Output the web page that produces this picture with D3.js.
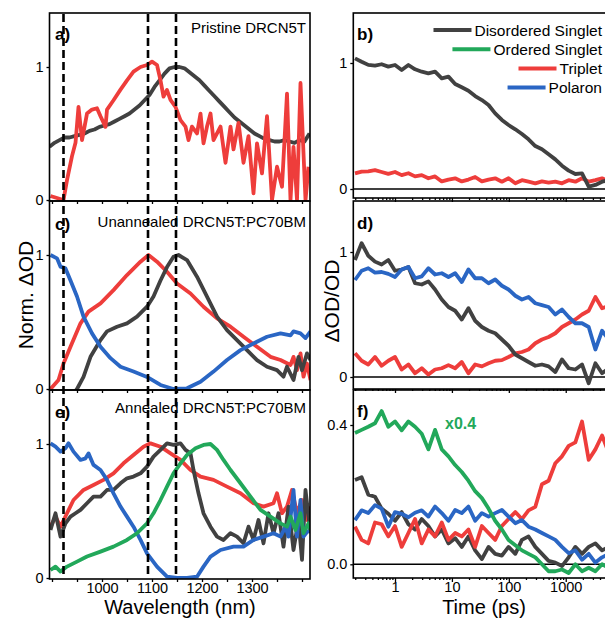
<!DOCTYPE html>
<meta charset="utf-8">
<style>
body { margin: 0; background: #fff; }
svg { font-family: "Liberation Sans", Arial, sans-serif; }
.frame { fill: none; stroke: #000; stroke-width: 1.6; }
.trace { fill: none; stroke-width: 3.8; stroke-linejoin: round; }
.axis path { display: none; }
.axis line { stroke: #000; stroke-width: 1.3; }
.axis text { font-size: 14.5px; fill: #000; font-family: "Liberation Sans", Arial, sans-serif; }
</style>
<body>
<script src="https://d3js.org/d3.v7.min.js"></script>
<script>

// ---- spectra (left column), wavelength in nm, normalised dOD ----
var aGrayWl = [895,905,915,925,935,945,955,965,975,985,995,1005,1015,1025,1035,1045,1055,1065,1075,1085,1095,1105,1115,1125,1135,1145,1155,1165,1175,1185,1195,1205,1215,1225,1235,1245,1255,1265,1275,1285,1295,1305,1315,1325,1335,1345,1355,1365,1375,1385,1395,1405,1415];
var aGrayVal = [0.40,0.43,0.45,0.47,0.47,0.48,0.49,0.50,0.52,0.53,0.55,0.56,0.57,0.59,0.61,0.63,0.65,0.68,0.71,0.75,0.79,0.85,0.90,0.95,0.99,1.00,1.00,0.99,0.96,0.93,0.90,0.86,0.82,0.78,0.74,0.70,0.66,0.62,0.59,0.56,0.53,0.50,0.48,0.46,0.45,0.44,0.44,0.45,0.44,0.43,0.45,0.44,0.50];
var aRedWl = [897,923,930,940,947,953,960,970,980,990,997,1007,1010,1023,1037,1050,1063,1077,1090,1100,1110,1117,1123,1130,1137,1147,1157,1167,1173,1180,1190,1197,1203,1210,1217,1223,1237,1247,1257,1263,1273,1283,1293,1303,1310,1320,1330,1340,1350,1360,1370,1377,1383,1390,1397,1407,1413];
var aRedVal = [0.03,0.0,0.15,0.33,0.43,0.70,0.45,0.65,0.68,0.69,0.63,0.55,0.68,0.75,0.83,0.90,0.965,1.0,1.015,1.04,1.015,0.90,0.777,0.827,0.752,0.70,0.60,0.552,0.45,0.552,0.50,0.65,0.426,0.552,0.65,0.45,0.552,0.28,0.552,0.38,0.58,0.28,0.48,0.05,0.426,0.20,0.63,0.0,0.25,0.10,0.80,0.0,0.40,0.0,0.88,0.0,0.25];

var cBlueWl = [897,910,917,927,937,950,963,980,997,1017,1037,1063,1090,1117,1143,1170,1197,1223,1250,1277,1303,1330,1357,1377,1383,1397,1407,1417];
var cBlueVal = [1.0,0.975,0.913,0.90,0.81,0.69,0.54,0.415,0.315,0.23,0.166,0.13,0.09,0.03,0.0,0.005,0.054,0.13,0.216,0.29,0.34,0.39,0.415,0.40,0.43,0.415,0.38,0.43];
var cRedWl = [897,913,923,937,957,973,997,1023,1050,1077,1093,1110,1130,1150,1177,1203,1230,1257,1283,1310,1337,1357,1377,1383,1390,1397,1403,1410,1417];
var cRedVal = [0,0.067,0.19,0.316,0.49,0.577,0.639,0.738,0.85,0.95,1.0,0.95,0.875,0.788,0.713,0.614,0.527,0.465,0.39,0.315,0.24,0.216,0.179,0.24,0.141,0.266,0.092,0.19,0.067];
var cGrayWl = [940,950,963,977,997,1010,1030,1050,1070,1090,1103,1117,1130,1143,1153,1170,1190,1210,1230,1250,1270,1290,1310,1330,1350,1363,1370,1383,1393,1400,1410,1417];
var cGrayVal = [-0.05,0,0.09,0.24,0.365,0.43,0.465,0.49,0.54,0.614,0.69,0.81,0.91,0.987,1.0,0.962,0.838,0.69,0.54,0.44,0.365,0.29,0.216,0.166,0.141,0.092,0.166,0.067,0.24,0.14,0.266,0.216];

var eBlueWl = [897,907,917,927,933,943,957,967,973,983,997,1010,1023,1037,1050,1063,1077,1090,1110,1130,1150,1170,1190,1203,1217,1237,1263,1283,1303,1323,1343,1357,1367,1373,1383,1390,1397,1403,1413];
var eBlueVal = [1.005,0.98,0.943,0.968,1.005,0.943,0.881,0.893,0.93,0.844,0.806,0.732,0.632,0.533,0.458,0.383,0.284,0.184,0.085,0.01,0,0,0.01,0.085,0.16,0.209,0.234,0.234,0.284,0.309,0.334,0.309,0.383,0.309,0.657,0.309,0.582,0.309,0.358];
var eRedWl = [897,907,917,930,943,963,983,1003,1023,1043,1063,1083,1097,1117,1137,1157,1177,1197,1223,1250,1277,1303,1323,1343,1350,1360,1370,1380,1390,1400,1410,1417];
var eRedVal = [0.383,0.458,0.383,0.483,0.582,0.657,0.694,0.732,0.781,0.856,0.918,0.98,1.005,0.98,0.93,0.881,0.806,0.757,0.732,0.682,0.632,0.558,0.533,0.558,0.632,0.483,0.533,0.657,0.483,0.582,0.433,0.533];
var eGrayWl = [897,907,917,927,937,947,957,970,983,997,1010,1023,1037,1050,1063,1077,1090,1103,1117,1130,1143,1157,1167,1177,1183,1193,1203,1217,1230,1243,1257,1270,1283,1293,1303,1313,1323,1333,1343,1353,1363,1373,1383,1393,1400,1407,1417];
var eGrayVal = [0.359,0.483,0.309,0.408,0.458,0.483,0.508,0.558,0.607,0.607,0.657,0.657,0.707,0.744,0.757,0.781,0.831,0.906,0.956,1.005,0.993,1.005,0.956,0.93,0.806,0.632,0.483,0.383,0.309,0.284,0.334,0.309,0.259,0.383,0.284,0.433,0.259,0.483,0.334,0.483,0.234,0.533,0.209,0.433,0.135,0.657,0.334];
var eGreenWl = [897,907,917,930,950,970,997,1023,1050,1070,1090,1103,1117,1130,1143,1157,1170,1187,1203,1217,1230,1243,1257,1277,1297,1317,1337,1357,1370,1377,1387,1397,1403,1413,1417];
var eGreenVal = [0.06,0.085,0.048,0.085,0.122,0.16,0.197,0.234,0.284,0.334,0.408,0.483,0.582,0.682,0.781,0.856,0.918,0.968,0.993,1.0,0.956,0.881,0.806,0.707,0.607,0.508,0.458,0.408,0.383,0.458,0.358,0.483,0.334,0.408,0.358];

var dashWl = [923, 1092, 1148];
var xLTickLabels = [1000, 1100, 1200, 1300];

// ---- kinetics (right column), time in ps ----
var times = [0.198,0.259,0.339,0.445,0.582,0.763,1.0,1.31,1.72,2.25,2.95,3.86,5.06,6.63,8.69,11.4,14.9,19.5,25.6,33.6,44.0,57.6,75.5,98.9,130,170,222,292,382,500,656,859,1126,1476,1933,2533,3319,4350,5700];

var bGray = [1.037,1.01,0.985,0.979,0.99,0.971,0.984,0.944,0.984,0.95,0.931,0.918,0.931,0.878,0.892,0.833,0.807,0.78,0.738,0.706,0.667,0.60,0.548,0.508,0.474,0.436,0.394,0.341,0.315,0.275,0.235,0.185,0.146,0.119,0.124,0.019,0.032,0.058,0.071];
var bRed = [0.124,0.138,0.14,0.15,0.135,0.12,0.135,0.11,0.125,0.10,0.11,0.085,0.10,0.06,0.075,0.085,0.06,0.075,0.095,0.06,0.075,0.085,0.058,0.085,0.045,0.07,0.058,0.045,0.06,0.05,0.058,0.045,0.07,0.058,0.085,0.058,0.07,0.085,0.06];

var dGray = [0.936,1.07,0.97,0.923,0.90,0.936,0.85,0.86,0.88,0.75,0.74,0.765,0.70,0.62,0.56,0.53,0.46,0.55,0.45,0.40,0.37,0.35,0.30,0.25,0.18,0.15,0.12,0.09,0.10,0.085,0.04,0.14,0.07,0.06,0.10,-0.05,0.11,0.03,0.07];
var dBlue = [0.776,0.85,0.87,0.835,0.84,0.825,0.80,0.86,0.88,0.79,0.805,0.87,0.82,0.83,0.80,0.83,0.76,0.86,0.79,0.79,0.75,0.78,0.73,0.70,0.65,0.62,0.64,0.59,0.575,0.56,0.50,0.54,0.48,0.43,0.43,0.40,0.22,0.37,0.30];
var dRed = [0.19,0.13,0.10,0.16,0.09,0.13,0.16,0.06,0.10,0.03,0.07,0.02,0.06,0.07,0.095,0.07,0.12,0.03,0.10,0.085,0.11,0.13,0.135,0.16,0.19,0.20,0.22,0.27,0.30,0.32,0.35,0.40,0.43,0.46,0.50,0.53,0.64,0.55,0.57];

var fGray = [0.242,0.25,0.20,0.194,0.16,0.145,0.125,0.15,0.115,0.10,0.13,0.11,0.08,0.10,0.06,0.075,0.05,0.08,0.04,0.015,0.05,0.03,0.025,0.05,0.03,0.07,0.08,0.05,0.03,0.01,0.005,-0.005,0.02,0.05,0.03,0.05,0.06,0.04,0.05];
var fRed = [0.108,0.07,0.06,0.12,0.115,0.08,0.11,0.05,0.09,0.13,0.06,0.10,0.08,0.12,0.07,0.09,0.08,0.10,0.05,0.11,0.09,0.07,0.11,0.13,0.15,0.13,0.155,0.165,0.23,0.24,0.29,0.31,0.34,0.35,0.41,0.30,0.33,0.37,0.32];
var fBlue = [0.127,0.155,0.147,0.17,0.16,0.108,0.15,0.145,0.135,0.148,0.155,0.137,0.166,0.147,0.125,0.156,0.147,0.166,0.125,0.147,0.137,0.147,0.156,0.137,0.118,0.127,0.108,0.10,0.09,0.08,0.07,0.05,0.032,0.04,0.013,0.03,0.005,0.02,0.03];
var fGreen = [0.377,0.386,0.395,0.405,0.44,0.395,0.41,0.385,0.41,0.395,0.375,0.33,0.386,0.33,0.31,0.285,0.265,0.24,0.21,0.19,0.16,0.125,0.10,0.07,0.055,0.04,0.03,0.02,0.0,-0.02,-0.02,-0.015,-0.025,0.0,-0.02,-0.01,-0.02,0.0,-0.01];

var xRTickLabels = [1, 10, 100, 1000];

var legendNames = ["Disordered Singlet", "Ordered Singlet", "Triplet", "Polaron"];

// colours
var cGrayC = "#414141", cRedC = "#ee3d3b", cBlueC = "#2a66c4", cGreenC = "#22a85a";
var legendColors = [cGrayC, cGreenC, cRedC, cBlueC];

var svg = d3.select("body").append("svg")
    .attr("width", 605)
    .attr("height", 618);

// scales
var xL = d3.scaleLinear().domain([895, 1416]).range([49.5, 310]);
var xR = d3.scaleLog().domain([0.185, 11000]).range([353.3, 625]);

var leftPanels = [
  {top: 13, bottom: 201, y: d3.scaleLinear().domain([0, 1]).range([200, 67]), label: "a)", labelY: 40,
   note: "Pristine DRCN5T", noteY: 33,
   series: [[aGrayWl, aGrayVal, cGrayC], [aRedWl, aRedVal, cRedC]]},
  {top: 201, bottom: 390, y: d3.scaleLinear().domain([0, 1]).range([389, 255]), label: "c)", labelY: 230,
   note: "Unannealed DRCN5T:PC70BM", noteY: 227,
   series: [[cRedWl, cRedVal, cRedC], [cGrayWl, cGrayVal, cGrayC], [cBlueWl, cBlueVal, cBlueC]]},
  {top: 390, bottom: 579, y: d3.scaleLinear().domain([0, 1]).range([578, 444]), label: "e)", labelY: 418,
   note: "Annealed DRCN5T:PC70BM", noteY: 413,
   series: [[eRedWl, eRedVal, cRedC], [eGrayWl, eGrayVal, cGrayC], [eBlueWl, eBlueVal, cBlueC], [eGreenWl, eGreenVal, cGreenC]]}
];

var rightPanels = [
  {top: 13, bottom: 198, y: d3.scaleLinear().domain([0, 1]).range([189, 63]), ticks: [0, 1], fmt: d3.format("d"),
   label: "b)", labelY: 40, series: [[bRed, cRedC], [bGray, cGrayC]]},
  {top: 201, bottom: 389, y: d3.scaleLinear().domain([0, 1]).range([377, 252]), ticks: [0, 1], fmt: d3.format("d"),
   label: "d)", labelY: 229, series: [[dRed, cRedC], [dGray, cGrayC], [dBlue, cBlueC]]},
  {top: 390, bottom: 578, y: d3.scaleLinear().domain([0, 0.4]).range([564.3, 425]), ticks: [0, 0.4], fmt: d3.format(".1f"),
   label: "f)", labelY: 417, series: [[fGray, cGrayC], [fRed, cRedC], [fBlue, cBlueC], [fGreen, cGreenC]]}
];

// left column
leftPanels.forEach(function(p, i) {
  var id = "clipL" + i;
  svg.append("clipPath").attr("id", id)
    .append("rect").attr("x", 49.5).attr("y", p.top).attr("width", 310 - 49.5).attr("height", p.bottom - p.top);

  var g = svg.append("g").attr("clip-path", "url(#" + id + ")");
  p.series.forEach(function(s) {
    var line = d3.line().x(function(d) { return xL(d[0]); }).y(function(d) { return p.y(d[1]); });
    g.append("path").attr("class", "trace").attr("stroke", s[2]).attr("d", line(d3.zip(s[0], s[1])));
  });

  svg.append("g").attr("class", "axis")
    .attr("transform", "translate(49.5,0)")
    .call(d3.axisLeft(p.y).tickValues([0, 1]).tickSize(3).tickPadding(3).tickFormat(d3.format("d")));

  var last = (i == leftPanels.length - 1);
  svg.append("g").attr("class", "axis")
    .attr("transform", "translate(0," + p.bottom + ")")
    .call(d3.axisBottom(xL).tickValues(d3.range(900, 1401, 50)).tickSize(3).tickPadding(1)
      .tickFormat(function(d) { return (last && xLTickLabels.indexOf(d) >= 0) ? d : ""; }));

  svg.append("rect").attr("class", "frame")
    .attr("x", 49.5).attr("y", p.top).attr("width", 310 - 49.5).attr("height", p.bottom - p.top);

  svg.append("text").attr("x", 55).attr("y", p.labelY)
    .style("font-size", "17px").style("font-weight", "bold").text(p.label);
  svg.append("text").attr("x", 306).attr("y", p.noteY).attr("text-anchor", "end")
    .style("font-size", "15px").text(p.note);
});

// dashed markers through the spectra
svg.selectAll(".dash").data(dashWl).enter().append("line")
  .attr("x1", function(d) { return xL(d); }).attr("x2", function(d) { return xL(d); })
  .attr("y1", 14).attr("y2", 578)
  .attr("stroke", "#000").attr("stroke-width", 2.6).attr("stroke-dasharray", "8,4");

// right column
var minorT = [];
[0.1, 1, 10, 100, 1000].forEach(function(dec) {
  for (var k = 2; k <= 9; k++) if (dec * k > 0.185) minorT.push(dec * k);
});

rightPanels.forEach(function(p, i) {
  var id = "clipR" + i;
  svg.append("clipPath").attr("id", id)
    .append("rect").attr("x", 353.3).attr("y", p.top).attr("width", 300).attr("height", p.bottom - p.top);

  svg.append("line").attr("x1", 353.3).attr("x2", 625).attr("y1", p.y(0)).attr("y2", p.y(0))
    .attr("stroke", "#000").attr("stroke-width", 1.4);

  var g = svg.append("g").attr("clip-path", "url(#" + id + ")");
  p.series.forEach(function(s) {
    var line = d3.line().x(function(d) { return xR(d[0]); }).y(function(d) { return p.y(d[1]); });
    g.append("path").attr("class", "trace").attr("stroke", s[1]).attr("d", line(d3.zip(times, s[0])));
  });

  svg.append("g").attr("class", "axis")
    .attr("transform", "translate(353.3,0)")
    .call(d3.axisLeft(p.y).tickValues(p.ticks).tickSize(3).tickPadding(3).tickFormat(p.fmt));

  var last = (i == rightPanels.length - 1);
  svg.append("g").attr("class", "axis")
    .attr("transform", "translate(0," + p.bottom + ")")
    .call(d3.axisBottom(xR).tickValues(minorT).tickSize(2).tickFormat(""));
  svg.append("g").attr("class", "axis")
    .attr("transform", "translate(0," + p.bottom + ")")
    .call(d3.axisBottom(xR).tickValues(xRTickLabels).tickSize(4).tickPadding(0)
      .tickFormat(function(d) { return last ? d : ""; }));

  svg.append("rect").attr("class", "frame")
    .attr("x", 353.3).attr("y", p.top).attr("width", 300).attr("height", p.bottom - p.top);

  svg.append("text").attr("x", 357).attr("y", p.labelY)
    .style("font-size", "17px").style("font-weight", "bold").text(p.label);
});

// legend in panel b
var leg = svg.append("g");
legendNames.forEach(function(name, i) {
  var yy = 30 + i * 19.2;
  var t = leg.append("text").attr("x", 602).attr("y", yy + 5.5).attr("text-anchor", "end")
    .style("font-size", "15.5px").text(name);
  var w = t.node().getComputedTextLength();
  leg.append("line").attr("x1", 602 - w - 41).attr("x2", 602 - w - 3)
    .attr("y1", yy).attr("y2", yy)
    .attr("stroke", legendColors[i]).attr("stroke-width", 4);
});

svg.append("text").attr("x", 445).attr("y", 429)
  .style("font-size", "16px").style("font-weight", "bold").attr("fill", cGreenC).text("x0.4");

// axis titles
svg.append("text").attr("x", 180).attr("y", 613.5).attr("text-anchor", "middle")
  .style("font-size", "20px").text("Wavelength (nm)");
svg.append("text").attr("x", 484).attr("y", 613.5).attr("text-anchor", "middle")
  .style("font-size", "20px").text("Time (ps)");
svg.append("text").attr("transform", "translate(33,295) rotate(-90)").attr("text-anchor", "middle")
  .style("font-size", "21px").text("Norm. ΔOD");
svg.append("text").attr("transform", "translate(339,301) rotate(-90)").attr("text-anchor", "middle")
  .style("font-size", "21px").text("ΔOD/OD");

</script>
</body>
